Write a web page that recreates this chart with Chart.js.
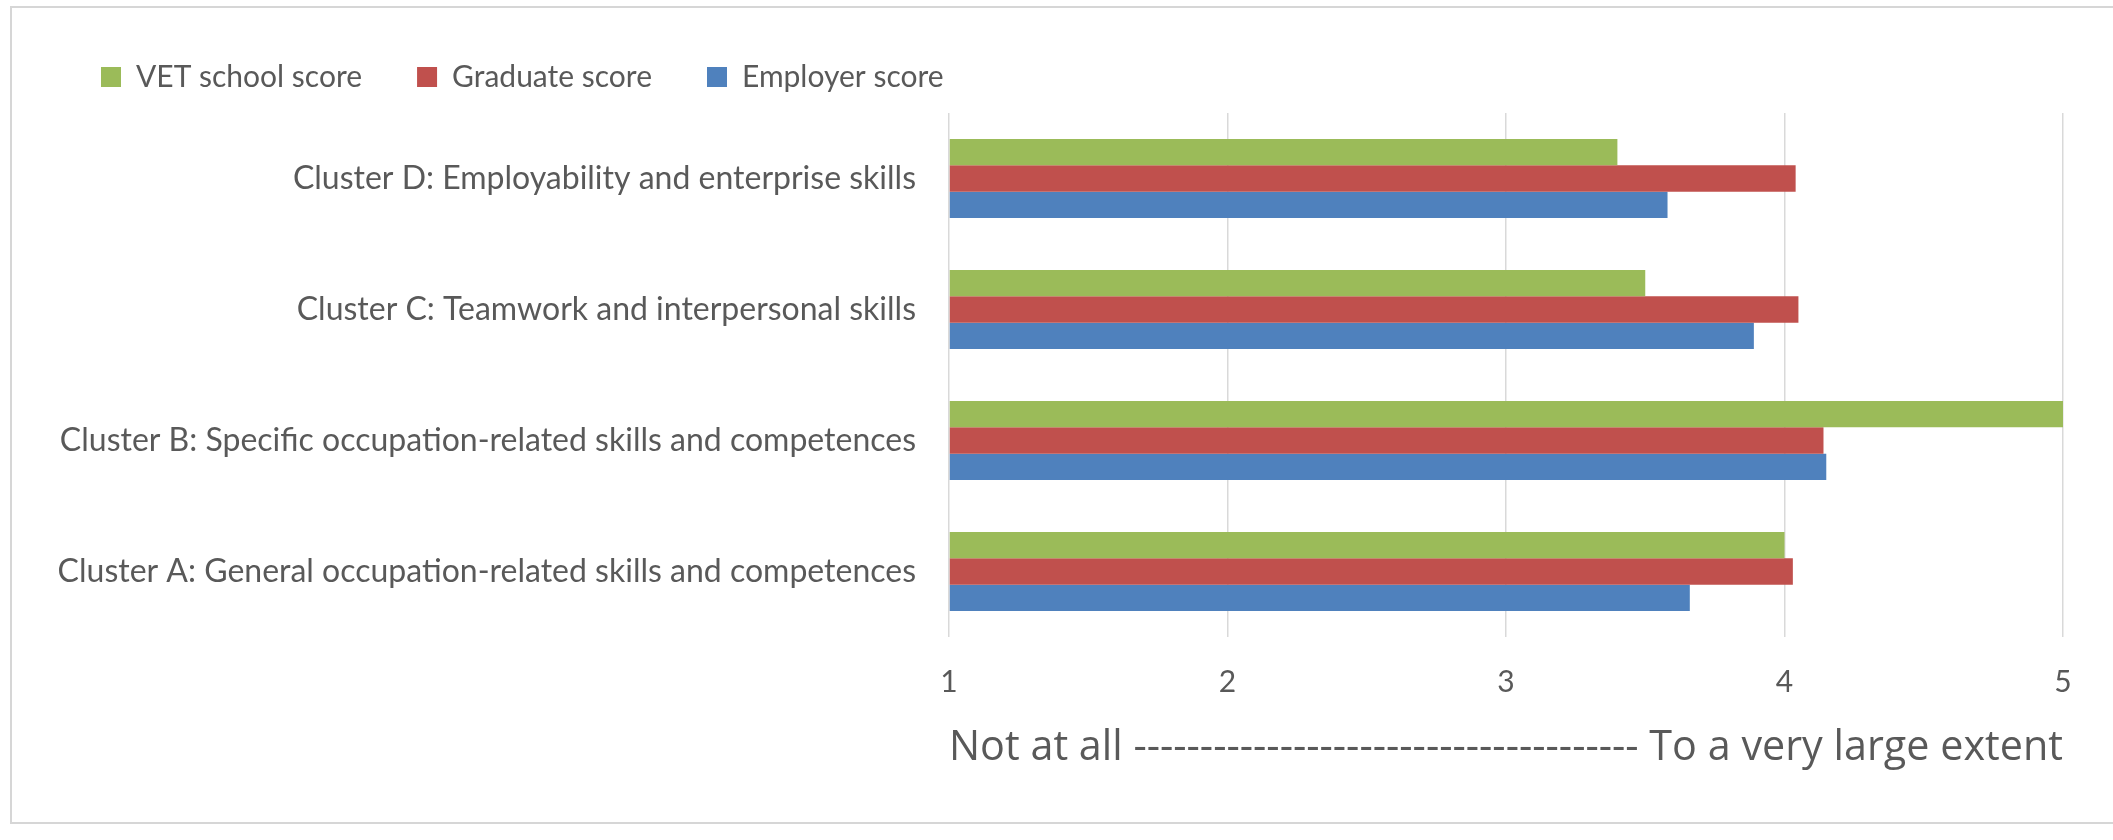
<!DOCTYPE html>
<html>
<head>
<meta charset="utf-8">
<script src="https://cdn.jsdelivr.net/npm/chart.js@4.4.1/dist/chart.umd.min.js"></script>
<style>
  html, body { margin: 0; padding: 0; background: #fff; overflow: hidden; }
  #wrap { position: relative; width: 2113px; height: 840px; }
  #frame { position: absolute; left: 10px; top: 6px; width: 2200px; height: 818px;
           border: 2px solid #d6d6d6; box-sizing: border-box; pointer-events: none; }
</style>
</head>
<body>
<div id="wrap">
  <canvas id="chart"></canvas>
  <div id="frame"></div>
</div>
<script>
// categories, top to bottom as in the picture
const clusters = [
    "Cluster D: Employability and enterprise skills",
    "Cluster C: Teamwork and interpersonal skills",
    "Cluster B: Specific occupation-related skills and competences",
    "Cluster A: General occupation-related skills and competences"
];

// scores (1 = not at all, 5 = to a very large extent)
const vetSchoolScore = [3.40, 3.50, 5.00, 4.00];
const graduateScore  = [4.04, 4.05, 4.14, 4.03];
const employerScore  = [3.58, 3.89, 4.15, 3.66];

const scaleTicks = [1, 2, 3, 4, 5];
const axisTitle = "Not at all -------------------------------------- To a very large extent";

const textColor = '#595959';

// legend keeps its big horizontal gaps but should not push the plot down
const legendHeightFix = {
    id: 'legendHeightFix',
    afterInit(chart) {
        const legend = chart.legend;
        const origFit = legend.fit.bind(legend);
        legend.fit = function () {
            origFit();
            this.height = 106;
        };
    }
};

const ctx = document.getElementById('chart').getContext('2d');
document.getElementById('chart').width = 2113;
document.getElementById('chart').height = 840;

new Chart(ctx, {
    type: 'bar',
    data: {
        labels: clusters,
        datasets: [
            { label: 'VET school score', data: vetSchoolScore, backgroundColor: '#9BBB59' },
            { label: 'Graduate score', data: graduateScore, backgroundColor: '#C0504D' },
            { label: 'Employer score', data: employerScore, backgroundColor: '#4F81BD' }
        ]
    },
    options: {
        indexAxis: 'y',
        responsive: false,
        animation: false,
        layout: { padding: { top: 7, left: 46, right: 50, bottom: 0 } },
        datasets: {
            bar: {
                base: 1,
                categoryPercentage: 0.603,
                barPercentage: 1.0,
                borderWidth: 0
            }
        },
        plugins: {
            tooltip: { enabled: false },
            legend: {
                position: 'top',
                align: 'start',
                labels: {
                    boxWidth: 20,
                    boxHeight: 20,
                    padding: 55,
                    color: textColor,
                    font: { family: 'Lato', size: 30 }
                }
            }
        },
        scales: {
            x: {
                type: 'linear',
                min: 1,
                max: 5,
                afterBuildTicks(scale) {
                    scale.ticks = scaleTicks.map(v => ({ value: v }));
                },
                afterFit(scale) { scale.height = 203; },
                grid: { color: '#D9D9D9', lineWidth: 1.5, drawTicks: false },
                border: { display: false },
                ticks: {
                    color: textColor,
                    padding: 27,
                    font: { family: 'Lato', size: 30 }
                },
                title: {
                    display: true,
                    text: axisTitle,
                    color: textColor,
                    font: { family: 'Open Sans', size: 42 },
                    padding: { top: 0, bottom: 67 }
                }
            },
            y: {
                afterFit(scale) { scale.width = 949 - 46; },
                grid: { display: false, drawTicks: false },
                border: { display: false },
                ticks: {
                    color: textColor,
                    padding: 33,
                    font: { family: 'Lato', size: 32 }
                }
            }
        }
    },
    plugins: [legendHeightFix]
});
</script>
</body>
</html>
